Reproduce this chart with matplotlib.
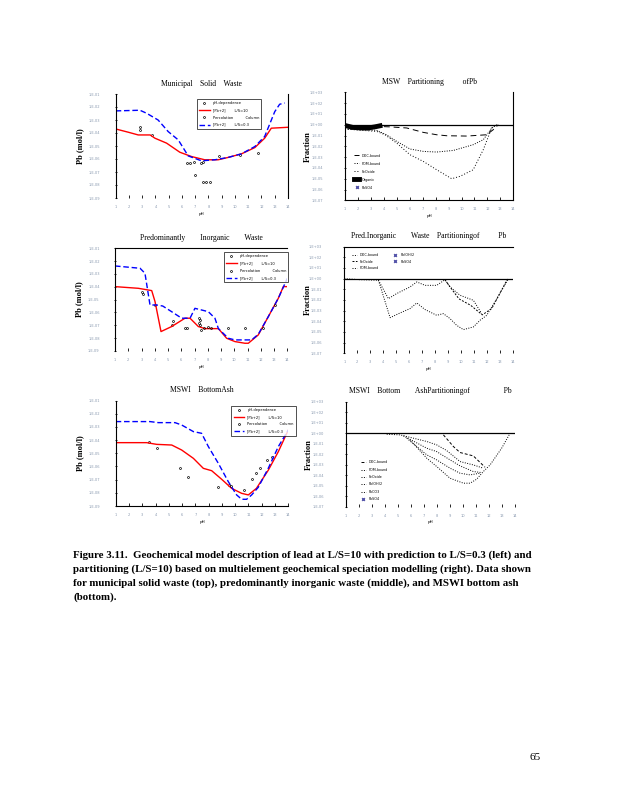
import matplotlib
matplotlib.use('Agg')
import matplotlib.pyplot as plt
import numpy as np

# ---- data (log10 of concentration / fraction) ----
# Municipal solid waste
msw_ph_ls10 = [1, 1.95, 2.7, 3.6, 3.96, 4.84, 5.84, 6.72, 7.72, 8.73, 9.48, 10.5, 11.5, 12.24, 12.74, 14]
msw_ls10 = [-3.69, -3.94, -4.15, -4.15, -4.4, -4.78, -5.48, -5.81, -6.06, -6.06, -5.88, -5.6, -5.12, -4.4, -3.63, -3.56]
msw_ph_ls03 = [1, 2.83, 3.33, 4.2, 4.96, 5.72, 6.47, 7.47, 8.48, 9.48, 10.5, 11.5, 12.24, 13.0, 13.37, 13.75]
msw_ls03 = [-2.3, -2.25, -2.48, -3.0, -3.89, -4.53, -5.76, -6.14, -6.06, -5.88, -5.6, -5.04, -4.27, -2.36, -1.79, -1.69]
msw_obs_ph = [2.83, 2.83, 3.76, 6.4, 6.6, 6.9, 6.97, 7.45, 7.6, 7.6, 7.85, 8.1, 8.8, 10.4, 11.7]
msw_obs = [-3.5, -3.76, -4.15, -6.27, -6.27, -6.25, -7.2, -6.3, -6.25, -7.78, -7.75, -7.78, -5.8, -5.68, -5.5]

# Predominantly inorganic waste
piw_ph_ls10 = [1, 2.76, 3.77, 4.02, 4.47, 5.27, 6.28, 6.66, 7.29, 7.79, 8.8, 9.42, 10.05, 10.8, 11.06, 11.81, 12.57, 13.32, 13.7, 14]
piw_ls10 = [-3.99, -4.12, -4.3, -5.16, -7.49, -7.1, -6.45, -6.45, -7.1, -7.26, -7.26, -8.01, -8.27, -8.4, -8.4, -7.75, -6.32, -4.9, -3.99, -3.99]
piw_ph_ls03 = [1, 2.89, 3.26, 3.64, 4.14, 4.6, 5.27, 6.03, 6.66, 7.03, 8.04, 8.54, 8.8, 9.55, 10.05, 11.31, 11.81, 12.57, 13.32, 14]
piw_ls03 = [-2.38, -2.56, -2.95, -5.42, -5.42, -5.5, -5.94, -6.45, -6.45, -5.68, -5.94, -6.45, -7.26, -8.01, -8.14, -8.14, -7.7, -6.32, -4.9, -3.34]
piw_obs_ph = [3.0, 3.1, 4.0, 5.4, 5.3, 6.3, 6.45, 7.3, 7.4, 7.35, 7.4, 7.5, 7.75, 8.0, 8.25, 9.55, 10.8, 12.2, 13.05]
piw_obs = [-4.4, -4.56, -5.4, -6.7, -7.0, -7.2, -7.2, -6.4, -6.55, -6.85, -7.0, -7.35, -7.25, -7.1, -7.25, -7.2, -7.2, -7.2, -5.4]

# MSWI bottom ash
ash_ph_ls10 = [1, 3.33, 4.09, 5.22, 5.97, 6.85, 7.6, 8.23, 8.98, 9.73, 10.49, 10.99, 11.6, 12.5, 13.25, 14]
ash_ls10 = [-4.19, -4.19, -4.32, -4.37, -4.75, -5.38, -6.14, -6.32, -6.97, -7.66, -8.04, -8.16, -7.66, -6.27, -4.87, -3.23]
ash_ph_ls03 = [1, 3.58, 4.21, 5.47, 5.97, 6.85, 7.47, 7.98, 8.73, 9.48, 10.11, 10.49, 10.86, 11.24, 11.74, 12.49, 13.25, 14]
ash_ls03 = [-2.59, -2.59, -2.67, -2.67, -2.85, -3.35, -3.48, -4.49, -5.76, -7.15, -8.16, -8.49, -8.49, -8.16, -7.58, -6.14, -4.49, -3.23]
ash_obs_ph = [3.5, 4.09, 5.84, 6.45, 8.73, 9.55, 9.7, 10.7, 11.24, 11.6, 11.85, 12.37, 12.74]
ash_obs = [-4.17, -4.62, -6.14, -6.8, -7.58, -7.4, -7.5, -7.78, -6.97, -6.47, -6.14, -5.5, -5.3]

# MSW partitioning
mswp_ph_a = [1, 3.45, 4.47, 5.76, 7.05, 8.08, 8.85, 10.4, 11.94, 12.45, 12.84]
mswp_a = [-0.15, -0.15, -0.2, -0.3, -0.71, -0.93, -1.02, -1.05, -0.93, -0.46, 0]
mswp_ph_b = [1, 3.45, 4.2, 4.99, 6.02, 7.05, 8.08, 9.37, 10.9, 11.68, 12.33, 12.7]
mswp_b = [-0.4, -0.52, -0.93, -1.54, -2.25, -2.47, -2.53, -2.38, -1.85, -1.39, -0.31, 0]
mswp_ph_c = [1, 3.45, 4.09, 4.99, 6.02, 7.05, 8.08, 9.24, 9.88, 10.9, 11.68, 12.33, 12.7]
mswp_c = [-0.4, -0.62, -0.93, -1.7, -2.78, -3.4, -4.17, -5.0, -4.78, -4.17, -2.31, -0.31, 0]
mswp_ph_d = [1.1, 1.6, 2.2, 2.8, 3.3, 3.7]
mswp_d = [-0.1, -0.25, -0.3, -0.3, -0.2, -0.1]

# Predominantly inorganic waste partitioning
piwp_ph_a = [1, 2.2, 3.63, 4.4, 5.04, 6.07, 6.59, 7.23, 8.13, 8.77, 9.16, 9.93, 10.96, 11.6]
piwp_a = [0, -0.1, -0.15, -1.88, -1.4, -0.78, -0.31, -0.63, -0.63, -0.1, -0.78, -1.56, -2.03, -3.28]
piwp_ph_b = [8.77, 9.05, 9.85, 10.75, 11.65, 12.38, 13.54, 13.67]
piwp_b = [-0.1, -0.6, -1.9, -2.5, -3.4, -2.8, -0.16, 0]
piwp_ph_c = [3.63, 4.53, 5.3, 6.07, 6.59, 7.23, 8.13, 8.64, 9.16, 9.67, 10.19, 10.96, 11.48, 11.99, 12.77, 13.67]
piwp_c = [-0.15, -3.66, -3.22, -2.81, -2.28, -2.9, -3.44, -3.28, -3.75, -4.38, -4.78, -4.53, -3.9, -3.44, -1.88, 0]

# MSWI bottom ash partitioning
ashp_ph_a = [8.49, 9.26, 9.77, 10.79, 11.69]
ashp_a = [-0.16, -1.27, -1.84, -2.16, -3.24]
ashp_ph_b = [4.13, 5.15, 7.21, 7.97, 8.74, 9.77, 10.79, 11.56]
ashp_b = [-0.1, -0.16, -0.79, -1.11, -1.65, -2.7, -3.02, -3.33]
ashp_ph_c = [5.41, 7.21, 7.97, 9.0, 9.77, 10.79, 11.44]
ashp_c = [-0.25, -1.43, -1.75, -2.54, -3.11, -3.65, -3.75]
ashp_ph_d = [5.67, 7.21, 7.97, 9.0, 9.77, 10.54, 11.3]
ashp_d = [-0.48, -2.06, -2.54, -3.33, -3.81, -3.97, -3.81]
ashp_ph_e = [5.92, 7.21, 7.97, 9.0, 10.03, 10.54, 11.05, 11.56, 12.08, 12.97, 13.62]
ashp_e = [-0.63, -2.38, -3.17, -4.29, -4.76, -4.76, -4.38, -3.65, -3.02, -1.43, 0]

ph_ticks = list(range(1, 15))
left_ticks = [-1, -2, -3, -4, -5, -6, -7, -8, -9]
left_labels = ['1.E-01', '1.E-02', '1.E-03', '1.E-04', '1.E-05', '1.E-06', '1.E-07', '1.E-08', '1.E-09']
right_ticks = [3, 2, 1, 0, -1, -2, -3, -4, -5, -6, -7]
right_labels = ['1.E+03', '1.E+02', '1.E+01', '1.E+00', '1.E-01', '1.E-02', '1.E-03',
                '1.E-04', '1.E-05', '1.E-06', '1.E-07']

serif = 'Liberation Serif'
tick_col = '#8a9ab0'


def p(v):
    return 10.0 ** np.array(v)


def setup(ax, title, ticks, labels, ylab, ypad, labx, spines):
    ax.set_yscale('log')
    ax.set_xlim(1, 14)
    ax.set_ylim(10.0 ** min(ticks), 10.0 ** max(ticks))
    ax.set_yticks([10.0 ** t for t in ticks])
    ax.set_yticklabels(labels)
    ax.minorticks_off()
    ax.set_xticks(ph_ticks)
    ax.set_xticklabels([str(t) for t in ph_ticks])
    ax.tick_params(axis='y', labelsize=2.6, labelcolor=tick_col, pad=ypad,
                   direction='inout', length=2, width=0.6)
    ax.tick_params(axis='x', labelsize=2.6, labelcolor=tick_col, pad=5,
                   direction='in', length=2.5, width=0.6)
    for s in ['top', 'right', 'bottom', 'left']:
        ax.spines[s].set_visible(s in spines or s == 'left')
        ax.spines[s].set_linewidth(0.8)
    ax.set_facecolor('none')
    ax.set_title(title, fontsize=5.5, family=serif, pad=6)
    ax.set_xlabel('pH', fontsize=3, labelpad=2)
    ax.set_ylabel(ylab, fontsize=6, family=serif, fontweight='bold')
    ax.yaxis.set_label_coords(labx, 0.5)


fig = plt.figure(figsize=(6.18, 8.0), dpi=100)

ax1 = fig.add_axes([0.1872, 0.7525, 0.2788, 0.130])
ax2 = fig.add_axes([0.5583, 0.7496, 0.2723, 0.135])
ax3 = fig.add_axes([0.1861, 0.5613, 0.2788, 0.1284])
ax4 = fig.add_axes([0.5572, 0.5584, 0.2725, 0.1333])
ax5 = fig.add_axes([0.1872, 0.3675, 0.2793, 0.1317])
ax6 = fig.add_axes([0.5599, 0.3666, 0.2735, 0.1313])

red = '#ff0000'
blue = '#0000ff'

# ---- left column: concentrations ----
lefts = [
    (ax1, 'Municipal    Solid    Waste', ['right'], (0.46, 0.97),
     msw_ph_ls10, msw_ls10, msw_ph_ls03, msw_ls03, msw_obs_ph, msw_obs),
    (ax3, 'Predominantly        Inorganic        Waste', ['top'], (0.62, 0.98),
     piw_ph_ls10, piw_ls10, piw_ph_ls03, piw_ls03, piw_obs_ph, piw_obs),
    (ax5, 'MSWI    BottomAsh', ['bottom'], (0.66, 0.97),
     ash_ph_ls10, ash_ls10, ash_ph_ls03, ash_ls03, ash_obs_ph, ash_obs),
]
for ax, title, sp, lpos, x10, y10, x03, y03, xo, yo in lefts:
    setup(ax, title, left_ticks, left_labels, 'Pb (mol/l)', 10, -0.184, sp)
    ax.plot(xo[:len(xo) // 2], p(yo[:len(yo) // 2]), 'o', ms=1.4, mfc='none',
            mec='k', mew=0.5, label='pH-dependence')
    ax.plot(x10, p(y10), color=red, lw=1.0, label='[Pb+2]        L/S=10')
    ax.plot(xo[len(xo) // 2:], p(yo[len(yo) // 2:]), 'o', ms=1.4, mfc='none',
            mec='k', mew=0.5, label='Percolation           Column')
    ax.plot(x03, p(y03), color=blue, lw=1.0, ls=(0, (4, 2)), label='[Pb+2]        L/S=0.3')
    leg = ax.legend(loc='upper left', bbox_to_anchor=lpos, fontsize=2.6, frameon=True,
                    fancybox=False, edgecolor='k', handlelength=3, borderpad=0.6,
                    labelspacing=0.9)
    leg.get_frame().set_linewidth(0.6)

# ---- right column: partitioning ----
for ax, title, sp in [(ax2, 'MSW    Partitioning          ofPb', ['right', 'bottom']),
                      (ax4, 'Pred.Inorganic        Waste    Partitioningof          Pb', ['top']),
                      (ax6, 'MSWI    Bottom        AshPartitioningof                  Pb', [])]:
    setup(ax, title, right_ticks, right_labels, 'Fraction', 15, -0.196, sp)
    ax.axhline(1.0, color='k', lw=0.9)

lk = dict(color='k', lw=0.7)
ax2.plot(mswp_ph_a, p(mswp_a), ls=(0, (6, 4)), label='DOC-bound', **lk)
ax2.plot(mswp_ph_b, p(mswp_b), ls=(0, (1, 1.5)), label='POM-bound', **lk)
ax2.plot(mswp_ph_c, p(mswp_c), ls=(0, (1, 2)), label='FeOxide', **lk)
ax2.plot(mswp_ph_d, p(mswp_d), color='k', lw=3.5, label='Organic')
ax2.plot([], [], 'x', color='#5555aa', ms=2, label='PbSO4')
leg = ax2.legend(loc='upper left', bbox_to_anchor=(0.036, 0.46), fontsize=2.4,
                 frameon=False, handlelength=1.5, labelspacing=1.2)

ax4.plot(piwp_ph_a, p(piwp_a), ls=(0, (1, 1.5)), label='DOC-bound', **lk)
ax4.plot(piwp_ph_b, p(piwp_b), ls=(0, (2, 1.5)), label='FeOxide', **lk)
ax4.plot(piwp_ph_c, p(piwp_c), ls=(0, (1, 1.5)), label='POM-bound', **lk)
ax4.plot([], [], 'x', color='#5555aa', ms=2, label='Pb(OH)2')
ax4.plot([], [], 'x', color='#5555aa', ms=2, label='PbSO4')
leg = ax4.legend(loc='upper left', bbox_to_anchor=(0.03, 0.97), fontsize=2.4, ncol=2,
                 frameon=False, handlelength=1.5, labelspacing=0.8, columnspacing=4)

ax6.plot(ashp_ph_a, p(ashp_a), ls=(0, (3, 2)), label='DOC-bound', **lk)
ax6.plot(ashp_ph_b, p(ashp_b), ls=(0, (1, 1.5)), label='POM-bound', **lk)
ax6.plot(ashp_ph_c, p(ashp_c), ls=(0, (1, 1.5)), label='FeOxide', **lk)
ax6.plot(ashp_ph_d, p(ashp_d), ls=(0, (1, 1.5)), label='Pb(OH)2', **lk)
ax6.plot(ashp_ph_e, p(ashp_e), ls=(0, (1, 1.5)), label='PbCO3', **lk)
ax6.plot([], [], 'x', color='#5555aa', ms=2, label='PbSO4')
leg = ax6.legend(loc='upper left', bbox_to_anchor=(0.07, 0.47), fontsize=2.4,
                 frameon=False, handlelength=1.5, labelspacing=1.0)

# ---- caption and page number ----
caption = [
    'Figure 3.11.  Geochemical model description of lead at L/S=10 with prediction to L/S=0.3 (left) and',
    'partitioning (L/S=10) based on multielement geochemical speciation modelling (right). Data shown',
    'for municipal solid waste (top), predominantly inorganic waste (middle), and MSWI bottom ash',
    '(bottom).',
]
for i, line in enumerate(caption):
    fig.text(73 / 618, 1 - (555 + i * 14.2) / 800, line, fontsize=7.8, family=serif,
             fontweight='bold', va='center', ha='left')
fig.text(535 / 618, 1 - 758 / 800, '65', fontsize=8, family=serif, ha='center', va='center')

fig.savefig('out.png', dpi=100)
